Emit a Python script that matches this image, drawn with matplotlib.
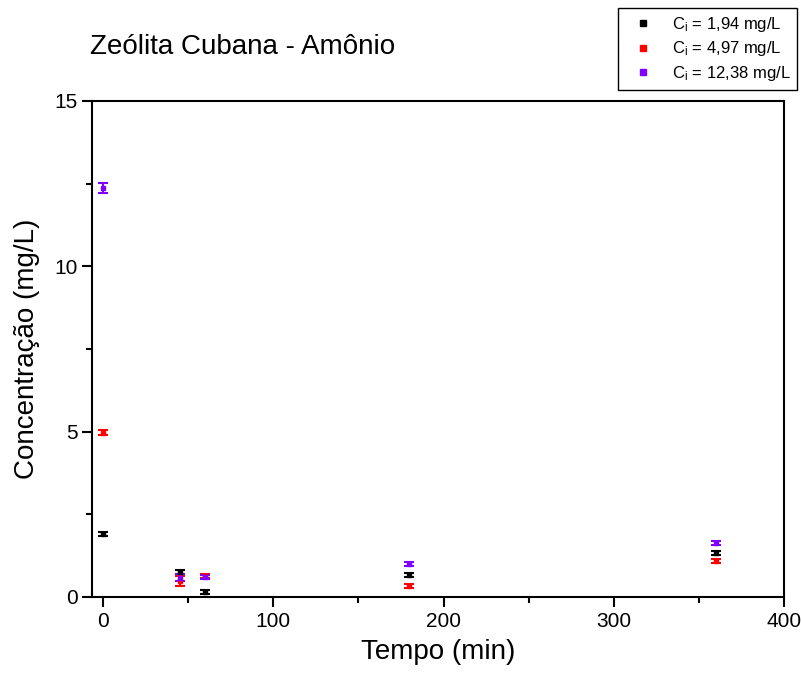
import matplotlib
matplotlib.use("Agg")
import matplotlib.pyplot as plt
from matplotlib.ticker import MultipleLocator
from matplotlib.lines import Line2D

plt.rcParams['font.family'] = ['Liberation Sans', 'DejaVu Sans']
plt.rcParams['mathtext.fontset'] = 'custom'
plt.rcParams['mathtext.rm'] = 'Liberation Sans'
plt.rcParams['mathtext.it'] = 'Liberation Sans:italic'

# Sampling times (min)
tempo = [0, 45, 60, 180, 360]

# Ammonium concentration (mg/L) for each initial concentration
c_194 = [1.91, 0.75, 0.15, 0.66, 1.33]
c_194_err = [0.06, 0.06, 0.05, 0.05, 0.06]
c_497 = [4.97, 0.48, 0.63, 0.33, 1.09]
c_497_err = [0.08, 0.15, 0.06, 0.05, 0.05]
c_1238 = [12.38, 0.58, 0.60, 1.00, 1.62]
c_1238_err = [0.15, 0.10, 0.06, 0.06, 0.06]

labels = [r'C$_\mathrm{i}$ = 1,94 mg/L', r'C$_\mathrm{i}$ = 4,97 mg/L', r'C$_\mathrm{i}$ = 12,38 mg/L']
colors = ['#000000', '#ff0000', '#8000ff']

fig = plt.figure(figsize=(8.02, 6.79), dpi=100)
ax = fig.add_axes([0.1147, 0.1208, 0.8629, 0.7305])

handles = []
for y, e, c, lab in zip([c_194, c_497, c_1238], [c_194_err, c_497_err, c_1238_err], colors, labels):
    ax.errorbar(tempo, y, yerr=e, fmt='s', color=c, ecolor=c, markersize=3.5,
                elinewidth=1.5, capsize=3.5, capthick=1.5)
    handles.append(Line2D([], [], linestyle='none', marker='s', markersize=4,
                          color=c, label=lab))

ax.set_xlim(-6.5, 400)
ax.set_ylim(0, 15)
ax.xaxis.set_major_locator(MultipleLocator(100))
ax.xaxis.set_minor_locator(MultipleLocator(50))
ax.yaxis.set_major_locator(MultipleLocator(5))
ax.yaxis.set_minor_locator(MultipleLocator(2.5))
ax.tick_params(which='major', direction='out', length=7, width=1.5, labelsize=15)
ax.tick_params(which='minor', direction='out', length=4, width=1.5)
for s in ax.spines.values():
    s.set_linewidth(1.5)

ax.set_xlabel('Tempo (min)', fontsize=20, labelpad=6)
ax.set_ylabel('Concentração (mg/L)', fontsize=20, labelpad=10)

fig.text(90 / 802, 1 - 47 / 679, 'Zeólita Cubana - Amônio', fontsize=20, va='center', ha='left')

leg = fig.legend(handles=handles, labels=labels, loc='upper right',
                 bbox_to_anchor=(797 / 802, 1 - 8 / 679), borderaxespad=0, fontsize=12,
                 frameon=True, fancybox=False, edgecolor='black', framealpha=1,
                 borderpad=0.4, labelspacing=0.35, handlelength=2.2, handletextpad=0.6)
leg.get_frame().set_linewidth(1.0)

fig.savefig('out.png', dpi=100)
